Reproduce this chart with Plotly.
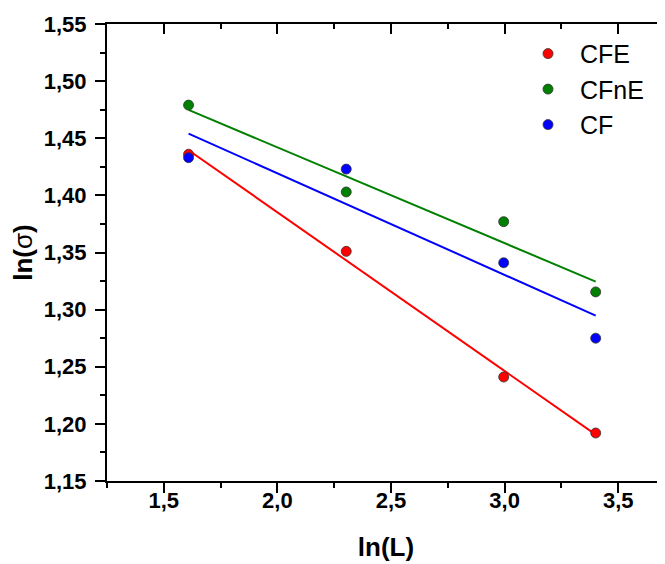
import numpy as np
import plotly.graph_objects as go

# data
ln_L = [1.609, 2.303, 2.996, 3.401]
series_names = ["CFE", "CFnE", "CF"]
cfe = [1.436, 1.351, 1.241, 1.192]
cfne = [1.479, 1.403, 1.377, 1.3155]
cf = [1.433, 1.423, 1.341, 1.275]
colors = ["#FF0000", "#008000", "#0000FF"]

x_range = [1.25, 3.706]
y_range = [1.15, 1.55]

FONT = "Arial, 'Liberation Sans', sans-serif"

fig = go.Figure()
all_series = [cfe, cfne, cf]

# fit lines first (under markers)
for name, ys, col in zip(series_names, all_series, colors):
    k, b = np.polyfit(ln_L, ys, 1)
    xs = [min(ln_L), max(ln_L)]
    fig.add_trace(go.Scatter(x=xs, y=[k * v + b for v in xs], mode="lines",
                             line=dict(color=col, width=2), showlegend=False,
                             hoverinfo="skip"))

for name, ys, col in zip(series_names, all_series, colors):
    fig.add_trace(go.Scatter(x=ln_L, y=ys, mode="markers", name=name, legendgroup=name,
                             marker=dict(color=col, size=10,
                                         line=dict(color="#333333", width=0.8))))

# invisible trace for top mirrored axis
fig.add_trace(go.Scatter(x=ln_L, y=cfe, xaxis="x2", mode="markers",
                         marker=dict(opacity=0), showlegend=False, hoverinfo="skip"))

axis_common = dict(showgrid=False, zeroline=False, showline=True, linecolor="black",
                   linewidth=2, automargin=False)

fig.update_layout(
    width=657, height=556,
    margin=dict(l=99, r=0, t=16, b=83),
    paper_bgcolor="white", plot_bgcolor="white",
    separators=",.",
    font=dict(family=FONT, color="black"),
    xaxis=dict(range=x_range, dtick=0.5, tick0=1.5, tickformat=".1f",
               ticks="outside", ticklen=10, tickwidth=2, tickcolor="black",
               tickfont=dict(size=22, family=FONT, weight="bold"),
               ticklabelstandoff=-11,
               minor=dict(dtick=0.25, tick0=1.25, ticks="outside", ticklen=5,
                          tickwidth=2, tickcolor="black"),
               title=dict(text="<b>ln(L)</b>", font=dict(size=26, family=FONT), standoff=25),
               **axis_common),
    xaxis2=dict(range=x_range, overlaying="x", side="top", anchor="y",
                dtick=0.5, tick0=1.5, ticks="inside", ticklen=10, tickwidth=2,
                tickcolor="black", showticklabels=False,
                minor=dict(dtick=0.25, tick0=1.25, ticks="inside", ticklen=5,
                           tickwidth=2, tickcolor="black"),
                **axis_common),
    yaxis=dict(range=y_range, dtick=0.05, tick0=1.15, tickformat=".2f",
               ticks="outside", ticklen=10, tickwidth=2, tickcolor="black",
               tickfont=dict(size=22, family=FONT, weight="bold"),
               ticklabelstandoff=4,
               minor=dict(dtick=0.025, tick0=1.15, ticks="outside", ticklen=5,
                          tickwidth=2, tickcolor="black"),
               title=dict(text="<b>ln(</b>σ<b>)</b>", font=dict(size=26, family=FONT), standoff=7),
               **axis_common),
    legend=dict(x=0.733, y=0.985, xanchor="left", yanchor="top",
                font=dict(size=25, family=FONT), itemwidth=54,
                tracegroupgap=0, traceorder="grouped",
                bgcolor="rgba(0,0,0,0)", borderwidth=0),
    showlegend=True,
)

fig.write_html("out.html")
